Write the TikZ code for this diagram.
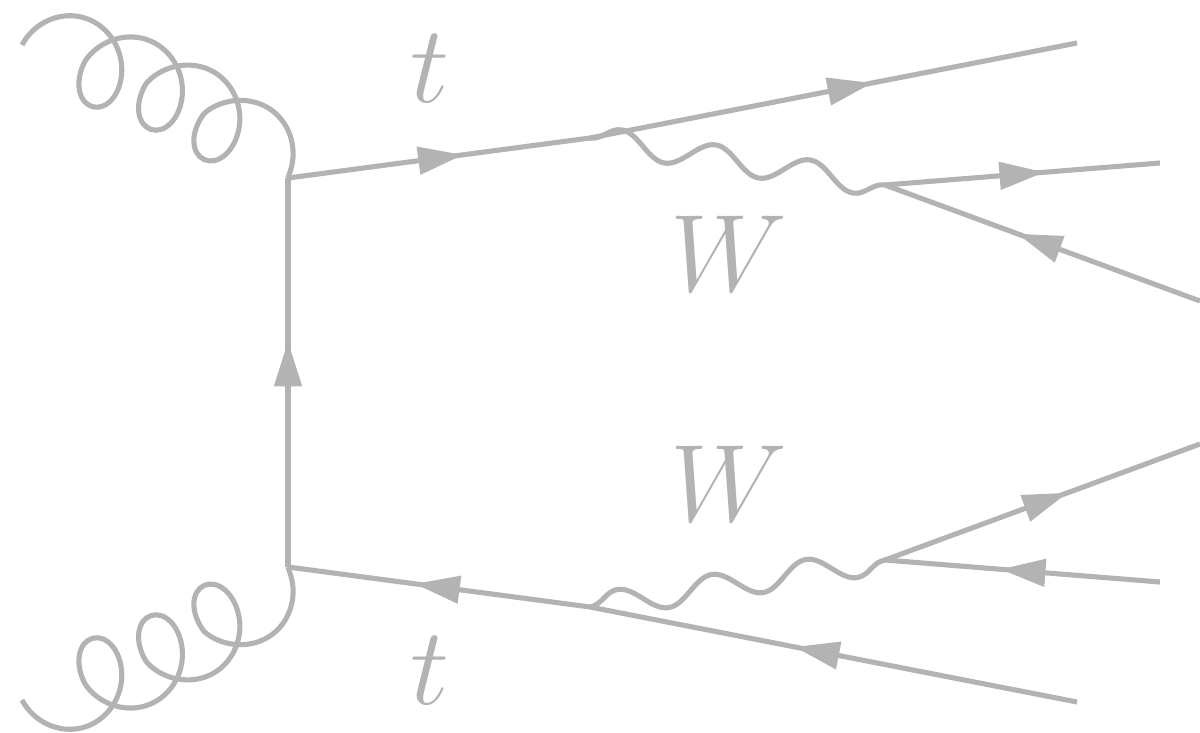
\documentclass[tikz,border=0pt]{standalone}
\usetikzlibrary{arrows.meta, decorations.pathmorphing, decorations.markings}
\definecolor{cLine}{HTML}{B3B3B3}

\begin{document}
\begin{tikzpicture}[
    color=cLine, line width=1.45pt,
    fermion/.style={postaction={decorate},
      decoration={markings, mark=at position 0.58 with {\arrow{Triangle[length=4.5mm, width=2.7mm]}}}},
    gluon/.style={decorate, decoration={coil, amplitude=4.2mm, segment length=6.5mm, aspect=0.84}},
    gluonm/.style={decorate, decoration={coil, amplitude=4.2mm, segment length=6.5mm, aspect=0.84, mirror}},
    boson/.style={decorate, decoration={snake, amplitude=1.3mm, segment length=9.55mm}},
    lbl/.style={font=\Huge, scale=1.26, transform shape, inner sep=0pt, anchor=base}
  ]
  \useasboundingbox (0,0) rectangle (12,-7.33);

  % vertices
  \coordinate (g1) at (0.22,-0.45);
  \coordinate (g2) at (0.22,-7.00);
  \coordinate (v1) at (2.88,-1.78);
  \coordinate (v2) at (2.88,-5.67);
  \coordinate (wt) at (5.90,-1.38);
  \coordinate (wb) at (5.90,-6.07);
  \coordinate (tout) at (10.77,-0.43);
  \coordinate (bout) at (10.77,-7.02);
  \coordinate (wv1) at (8.85,-1.85);
  \coordinate (wv2) at (8.85,-5.60);
  \coordinate (l1) at (11.60,-1.63);
  \coordinate (l2) at (12.00,-3.01);
  \coordinate (l3) at (12.00,-4.44);
  \coordinate (l4) at (11.60,-5.82);

  % gluons
  \draw[gluon] (g1) to[bend left=12] (v1);
  \draw[gluonm] (g2) to[bend right=12] (v2);

  % top quarks
  \draw[fermion] (v2) -- (v1);
  \draw[fermion] (v1) -- (wt);
  \draw[fermion] (wt) -- (tout);
  \draw[fermion] (wb) -- (v2);
  \draw[fermion] (bout) -- (wb);

  % W bosons
  \draw[boson] (wt) -- (wv1);
  \draw[boson] (wb) -- (wv2);

  % decay products
  \draw[fermion] (wv1) -- (l1);
  \draw[fermion] (l2) -- (wv1);
  \draw[fermion] (wv2) -- (l3);
  \draw[fermion] (l4) -- (wv2);

  \node[lbl] (ttop) at (4.30,-1.02) {$t$};
  \node[lbl] (tbot) at (4.30,-7.04) {$t$};
  \node[lbl] (wtop) at (7.29,-2.91) {$W$};
  \node[lbl] (wbot) at (7.29,-5.21) {$W$};
\end{tikzpicture}
\end{document}
